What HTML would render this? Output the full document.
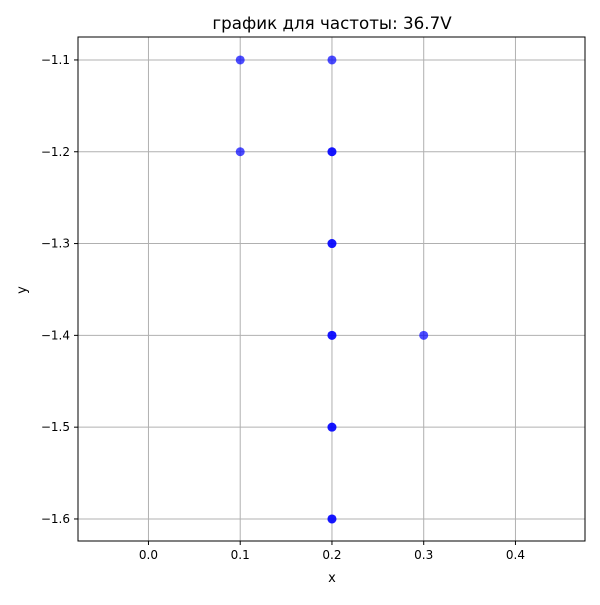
<!DOCTYPE html>
<html><head><meta charset="utf-8"><style>
body{margin:0;background:#fff;}
text{font-family:"DejaVu Sans","Liberation Sans",sans-serif;}
</style></head><body>
<svg id="chart" width="600" height="600" xmlns="http://www.w3.org/2000/svg">
<rect width="600" height="600" fill="#fff"/>
<g id="grid"></g>
<g id="ticks"></g>
<g id="points"></g>
<rect x="78" y="37" width="507" height="504" fill="none" stroke="#000" stroke-width="1"/>
<text x="332" y="29" text-anchor="middle" font-size="16.7">график для частоты: 36.7V</text>
<text x="332" y="582" text-anchor="middle" font-size="13">x</text>
<text x="26" y="290" text-anchor="middle" font-size="13" transform="rotate(-90 26 290)">y</text>
</svg>
<script>
const xs = [0.1, 0.2, 0.1, 0.2, 0.2, 0.2, 0.2, 0.2, 0.2, 0.3, 0.2, 0.2, 0.2, 0.2];
const ys = [-1.1, -1.1, -1.2, -1.2, -1.2, -1.3, -1.3, -1.4, -1.4, -1.4, -1.5, -1.5, -1.6, -1.6];
const xTicks = [0.0, 0.1, 0.2, 0.3, 0.4];
const yTicks = [-1.1, -1.2, -1.3, -1.4, -1.5, -1.6];
const xMin = -0.0768, xMax = 0.4758, yMin = -1.6240, yMax = -1.0750;
const L = 78, R = 585, T = 37, B = 541;
function sx(v){return L + (v - xMin) / (xMax - xMin) * (R - L);}
function sy(v){return B - (v - yMin) / (yMax - yMin) * (B - T);}
const NS = "http://www.w3.org/2000/svg";
const grid = document.getElementById('grid'), ticks = document.getElementById('ticks'), pts = document.getElementById('points');
function mk(tag, attrs, parent){const e=document.createElementNS(NS,tag);for(const k in attrs)e.setAttribute(k,attrs[k]);parent.appendChild(e);return e;}
xTicks.forEach(v=>{
  const x=sx(v);
  const g=mk('line',{x1:x,x2:x,y1:T,y2:B,stroke:'#b0b0b0','stroke-width':1},grid);
  
  
  mk('line',{x1:x,x2:x,y1:B,y2:B+4,stroke:'#000'},ticks);
  const t=mk('text',{x:x,y:B+18,'text-anchor':'middle','font-size':12},ticks);
  t.textContent=v.toFixed(1);
  
  
});
yTicks.forEach(v=>{
  const y=sy(v);
  const g=mk('line',{x1:L,x2:R,y1:y,y2:y,stroke:'#b0b0b0','stroke-width':1},grid);
  
  
  mk('line',{x1:L-4,x2:L,y1:y,y2:y,stroke:'#000'},ticks);
  const t=mk('text',{x:L-8,y:y+4,'text-anchor':'end','font-size':12},ticks);
  t.textContent='\u2212'+Math.abs(v).toFixed(1);
  
  
});
xs.forEach((v,i)=>{
  const c=mk('circle',{cx:sx(v),cy:sy(ys[i]),r:4.5,fill:'#0000ff','fill-opacity':0.7},pts);
  
  
});
</script>
</body></html>
